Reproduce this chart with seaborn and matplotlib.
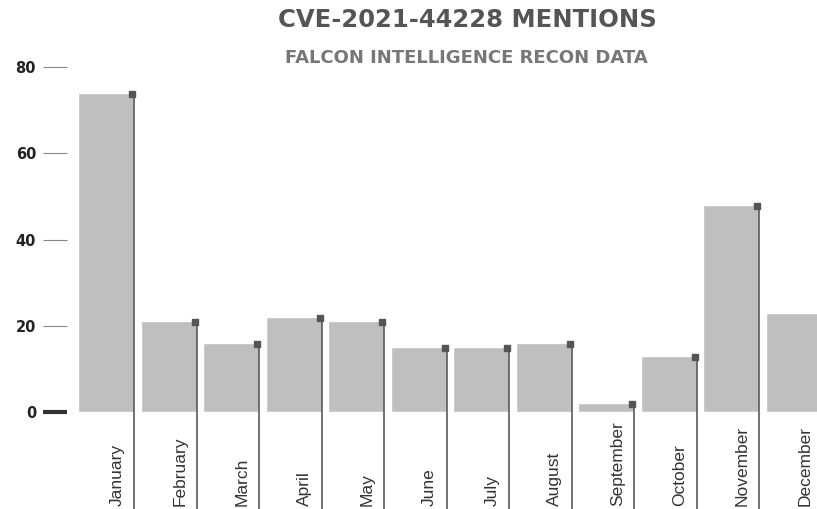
import numpy as np
import pandas as pd
import matplotlib
matplotlib.use("Agg")
import matplotlib.pyplot as plt
import seaborn as sns

months = ["January", "February", "March", "April", "May", "June",
          "July", "August", "September", "October", "November", "December"]
mentions = [74, 21, 16, 22, 21, 15, 15, 16, 2, 13, 48, 23]
y_ticks = [0, 20, 40, 60, 80]

df = pd.DataFrame({"month": months, "mentions": mentions})

sns.set_style("white")
plt.rcParams["font.family"] = ["Liberation Sans", "DejaVu Sans"]

W, H = 817, 509
fig = plt.figure(figsize=(W / 100, H / 100), dpi=100)
# axes placed in pixel terms: y=0 at 412px, y=80 at 67px, bar pitch 62.5px
pitch = 62.5
ax = fig.add_axes([67 / W, (H - 412) / H, (W - 67) / W, 345 / H])

bw = 56 / pitch
sns.barplot(data=df, x="month", y="mentions", color="#bfbfbf",
            saturation=1, width=bw, ax=ax)

xmax = (W - 106) / pitch
ax.set_xlim((67 - 106) / pitch, xmax)
ax.set_ylim(0, 80)
sns.despine(ax=ax, left=True, bottom=True)
ax.set_xlabel("")
ax.set_ylabel("")

# leader lines from each bar's top-right corner down past the axis
x = np.arange(len(months))
right = x + bw / 2
y_bottom = -(H - 412) / 345 * 80
ax.vlines(right, y_bottom, mentions, color="#5a5a5a", lw=1.2, clip_on=False, zorder=3)
vals = np.array(mentions, dtype=float)
inside = right < xmax
ax.plot(right[inside] - 0.03, vals[inside] - 0.15, ls="none", marker="s", ms=4.5,
        color="#555555", zorder=4)

# month labels, rotated, anchored at the bottom edge
ax.set_xticks([])
for xi, m in zip(x, months):
    ax.text(xi + 0.18, -0.272, m, transform=ax.get_xaxis_transform(),
            rotation=90, ha="center", va="bottom", fontsize=12.5, color="#333333")

ax.set_yticks(y_ticks)
ax.set_yticklabels([str(t) for t in y_ticks], fontfamily="DejaVu Sans",
                   fontweight="bold", fontsize=10.5, color="#222222")
ax.tick_params(axis="y", left=True, length=17.3, width=0.8, color="#888888", pad=5)
zero = ax.yaxis.get_major_ticks()[0]
zero.tick1line.set_markeredgewidth(3)
zero.tick1line.set_markeredgecolor("#333333")

fig.text(467 / W, 1 - 20 / H, "CVE-2021-44228 MENTIONS", ha="center", va="center",
         fontfamily="DejaVu Sans", fontweight="bold", fontsize=17.5, color="#555555")
fig.text(466 / W, 1 - 58 / H, "FALCON INTELLIGENCE RECON DATA", ha="center", va="center",
         fontfamily="DejaVu Sans", fontweight="bold", fontsize=13, color="#777777")

fig.savefig("out.png", dpi=100)
